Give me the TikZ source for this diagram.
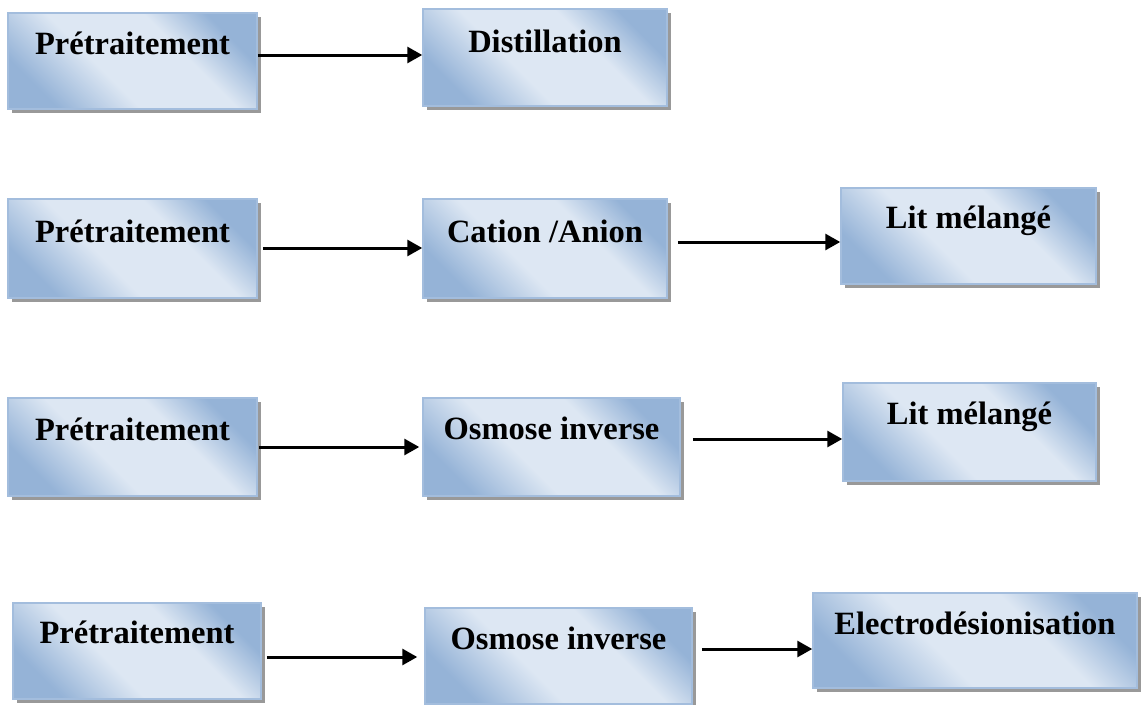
\documentclass[tikz,border=0pt]{standalone}
\usepackage{fontspec}
\setmainfont{Liberation Serif}
\usetikzlibrary{arrows.meta,shadows,calc}
\definecolor{bdark}{HTML}{95B3D7}
\definecolor{blight}{HTML}{DDE7F3}
\definecolor{bborder}{HTML}{A3BDDD}
\pgfdeclarehorizontalshading{boxshade}{100bp}{color(0bp)=(bdark); color(25bp)=(bdark); color(42bp)=(blight); color(62bp)=(blight); color(75bp)=(bdark); color(100bp)=(bdark)}
\begin{document}
\begin{tikzpicture}[x=1pt,y=-1pt,
  stagebox/.style={rectangle, draw=bborder, line width=1.5pt, shading=boxshade, shading angle=45,
    inner sep=0pt, anchor=base, font=\fontsize{32.5}{38}\selectfont\bfseries,
    drop shadow={shadow xshift=3.5pt, shadow yshift=-3.5pt, fill=black!40, opacity=1}},
  flow/.style={line width=3pt, -{Triangle[length=15pt,width=16pt]}}]
\useasboundingbox[fill=white] (0,0) rectangle (1142,704);

% Row 1
\node[stagebox, minimum width=249pt, text height=41pt, text depth=55pt] (p1) at (132.5,54) {Prétraitement};
\node[stagebox, minimum width=244pt, text height=43pt, text depth=54pt] (d1) at (545,52) {Distillation};
% Row 2
\node[stagebox, minimum width=249pt, text height=43pt, text depth=56pt] (p2) at (132.5,242) {Prétraitement};
\node[stagebox, minimum width=244pt, text height=43pt, text depth=56pt] (c2) at (545,242) {Cation /Anion};
\node[stagebox, minimum width=255pt, text height=40pt, text depth=56pt] (l2) at (968.5,228) {Lit mélangé};
% Row 3
\node[stagebox, minimum width=249pt, text height=42pt, text depth=56pt] (p3) at (132.5,440) {Prétraitement};
\node[stagebox, minimum width=257pt, text height=41pt, text depth=57pt] (o3) at (551.5,439) {Osmose inverse};
\node[stagebox, minimum width=253pt, text height=41pt, text depth=57pt] (l3) at (969.5,424) {Lit mélangé};
% Row 4
\node[stagebox, minimum width=248pt, text height=40pt, text depth=56pt] (p4) at (137,643) {Prétraitement};
\node[stagebox, minimum width=267pt, text height=41pt, text depth=55pt] (o4) at (558.5,649) {Osmose inverse};
\node[stagebox, minimum width=324pt, text height=41pt, text depth=54pt] (e4) at (975,634) {Electrodésionisation};

% Connectors
\draw[flow] (p1.east |- 0,55) -- (d1.west |- 0,55);
\draw[flow] ($(p2.east |- 0,248)+(5,0)$) -- (c2.west |- 0,248);
\draw[flow] ($(c2.east |- 0,242)+(10,0)$) -- (l2.west |- 0,242);
\draw[flow] ($(p3.east |- 0,447)+(1,0)$) -- ($(o3.west |- 0,447)+(-3,0)$);
\draw[flow] ($(o3.east |- 0,439)+(12,0)$) -- (l3.west |- 0,439);
\draw[flow] ($(p4.east |- 0,657)+(5,0)$) -- ($(o4.west |- 0,657)+(-7,0)$);
\draw[flow] ($(o4.east |- 0,649)+(9,0)$) -- (e4.west |- 0,649);
\end{tikzpicture}
\end{document}
